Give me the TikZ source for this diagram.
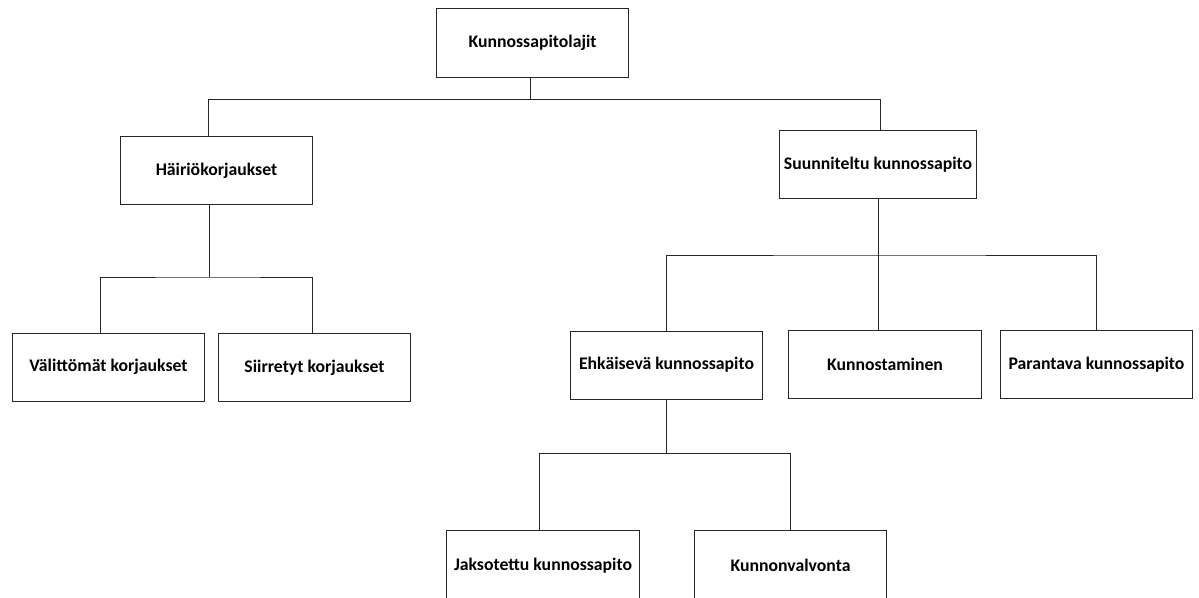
\documentclass[tikz,border=0pt]{standalone}
\usepackage{fontspec}
\setmainfont{Carlito}
\usepackage{tikz}
\usetikzlibrary{positioning}
\tikzset{
    box/.style={rectangle, minimum width=4.8cm, minimum height=1.7cm, text centered, draw=black!85, line width=0.7pt, font=\fontsize{12.6}{14}\selectfont\bfseries},
    lowbox/.style={box, minimum height=1.76cm, anchor=north},
    link/.style={draw=black!85, line width=0.7pt}
}

\begin{document}
\begin{tikzpicture}[x=0.025cm, y=-0.025cm]
    \useasboundingbox (0,0) rectangle (1199,598);
    \node (kp) [box] at (532.5,43) {Kunnossapitolajit};
    \node (hk) [box] at (216.5,170.5) {Häiriökorjaukset};
    \node (sk) [box] at (878,164.5) {Suunniteltu kunnossapito};
    \node (vk) [box] at (108.5,367) {Välittömät korjaukset};
    \node (sik) [box] at (314.5,367.5) {Siirretyt korjaukset};
    \node (ek) [box] at (666.5,365) {Ehkäisevä kunnossapito};
    \node (kn) [box] at (885,364.5) {Kunnostaminen};
    \node (pk) [box] at (1096.5,364.5) {Parantava kunnossapito};
    \node (jk) [lowbox] at (543,530) {Jaksotettu kunnossapito};
    \node (kv) [lowbox] at (790.5,530) {Kunnonvalvonta};

    \draw [link] ([xshift=-0.05cm]kp.south) -- ++(0,22) coordinate (f1);
    \draw [link] ([xshift=-0.2cm]hk.north) |- (f1) -| ([xshift=0.05cm]sk.north);
    \draw [link] ([xshift=-0.18cm]hk.south) -- ++(0,72) coordinate (f2);
    \draw [link] ([xshift=-0.2cm]vk.north) |- (f2) -| ([xshift=-0.05cm]sik.north);
    \draw [link] (sk.south) -- ++(0,56) coordinate (f3);
    \draw [link] (ek.north) |- (f3) -| (pk.north);
    \draw [link] (f3) -- (f3 |- kn.north);
    \draw [link] (ek.south) -- ++(0,54) coordinate (f4);
    \draw [link] ([xshift=-0.1cm]jk.north) |- (f4) -| (kv.north);
\end{tikzpicture}
\end{document}
